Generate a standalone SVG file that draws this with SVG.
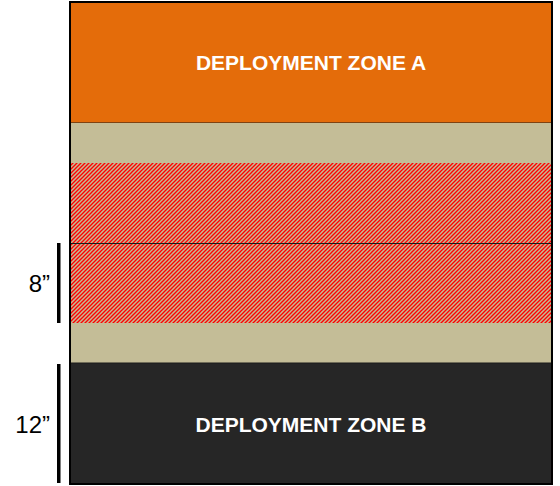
<svg xmlns="http://www.w3.org/2000/svg" width="560" height="486" viewBox="0 0 560 486">
  <defs>
    <pattern id="hatch" patternUnits="userSpaceOnUse" width="4" height="4">
      <rect width="4" height="4" fill="#C4BD97"/>
      <path d="M-1,1 L1,-1 M0,4 L4,0 M3,5 L5,3" stroke="#FF0000" stroke-width="1.35"/>
    </pattern>
    <style>
      .zone { stroke: #1a1a1a; stroke-width: 1; }
      .title { font-family: "Liberation Sans", Arial, sans-serif; font-weight: bold; font-size: 21px; fill: #ffffff; text-anchor: middle; }
      .dim { font-family: "Liberation Sans", Arial, sans-serif; font-size: 24px; fill: #000000; text-anchor: end; }
      .bar { fill: #000000; }
    </style>
  </defs>
  <rect width="560" height="486" fill="#ffffff"/>
  <g id="zoneA">
    <rect class="zone" x="70" y="2" width="482" height="121" fill="#E46C0A"/>
    <text class="title" x="311" y="70">DEPLOYMENT ZONE A</text>
  </g>
  <g id="bandTop">
    <rect x="70" y="123" width="482" height="40" fill="#C4BD97"/>
  </g>
  <g id="hatchUpper">
    <rect x="70" y="163" width="482" height="80" fill="url(#hatch)"/>
  </g>
  <g id="hatchLower">
    <rect x="70" y="243" width="482" height="80" fill="url(#hatch)"/>
    <line x1="70" y1="243.5" x2="552" y2="243.5" stroke="#1a1a1a" stroke-width="1"/>
  </g>
  <g id="bandBottom">
    <rect x="70" y="323" width="482" height="40" fill="#C4BD97"/>
  </g>
  <g id="zoneB">
    <rect class="zone" x="70" y="363" width="482" height="121" fill="#262626"/>
    <text class="title" x="311" y="432">DEPLOYMENT ZONE B</text>
  </g>
  <rect x="70" y="2" width="482" height="482" fill="none" stroke="#000000" stroke-width="2"/>
  <g id="connectors">
    <g id="dim8">
      <rect class="bar" x="57" y="243" width="3.5" height="80"/>
      <text class="dim" x="50" y="292">8”</text>
    </g>
    <g id="dim12">
      <rect class="bar" x="57" y="364" width="3.5" height="119"/>
      <text class="dim" x="50" y="433">12”</text>
    </g>
  </g>
</svg>
